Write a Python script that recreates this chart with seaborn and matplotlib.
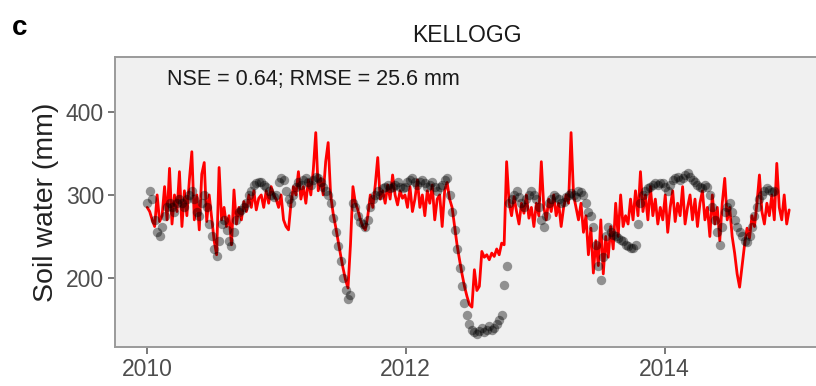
import numpy as np
import pandas as pd
import matplotlib
matplotlib.use("Agg")
import matplotlib.pyplot as plt
import matplotlib.dates as mdates
import seaborn as sns

# ---------------- data (weekly) ----------------
start_date = "2010-01-01"

sim_2010 = [285, 280, 270, 262, 300, 268, 275, 310, 270, 332, 265, 300, 280, 328, 262, 305,
            275, 318, 352, 270, 300, 258, 325, 339, 268, 300, 272, 245, 228, 333, 270, 285,
            262, 275, 240, 306, 265, 285, 270, 292, 280, 300, 285, 305, 282, 296, 300, 285,
            305, 290, 310, 300]
sim_2011 = [295, 285, 300, 270, 262, 258, 290, 310, 300, 328, 295, 310, 290, 318, 300, 330,
            375, 305, 320, 300, 340, 363, 300, 278, 262, 245, 228, 212, 198, 188, 240, 310,
            290, 282, 270, 262, 258, 275, 300, 285, 312, 345, 295, 305, 290, 312, 295, 324,
            300, 288, 305, 296]
sim_2012 = [300, 285, 310, 280, 295, 318, 285, 300, 275, 305, 290, 312, 270, 295, 300, 262,
            305, 315, 295, 285, 262, 240, 222, 205, 190, 178, 168, 165, 210, 185, 190, 232,
            225, 228, 222, 230, 226, 235, 228, 242, 240, 340, 290, 275, 298, 280, 265, 290,
            278, 300, 272, 285]
sim_2013 = [262, 290, 275, 340, 285, 270, 295, 280, 300, 275, 290, 262, 285, 300, 290, 375,
            300, 285, 270, 290, 255, 275, 228, 260, 206, 245, 215, 270, 205, 250, 225, 262,
            235, 290, 250, 300, 262, 275, 265, 295, 270, 305, 275, 328, 280, 300, 270, 310,
            275, 295, 265, 285]
sim_2014 = [270, 300, 255, 285, 305, 268, 290, 275, 310, 265, 285, 300, 270, 295, 262, 290,
            305, 270, 285, 250, 300, 265, 285, 245, 290, 320, 270, 285, 250, 230, 205, 189,
            215, 240, 260, 248, 275, 262, 290, 324, 280, 265, 290, 275, 300, 270, 338, 285,
            270, 300, 265, 282]

obs_2010 = [290, 305, 295, 270, 255, 250, 262, 275, 285, 290, 285, 280, 290, 295, 290, 285,
            295, 300, 305, 295, 280, 275, 290, 300, 285, 265, 250, 235, 226, 245, 265, 270,
            258, 245, 238, 255, 270, 280, 282, 285, 290, 300, 305, 312, 314, 316, 315, 312,
            310, 305, 300, 298]
obs_2011 = [300, 315, 320, 318, 305, 295, 290, 300, 310, 315, 312, 318, 320, 315, 312, 318,
            322, 320, 315, 310, 305, 300, 290, 272, 255, 238, 220, 200, 185, 175, 180, 290,
            285, 275, 268, 265, 262, 270, 285, 295, 300, 305, 300, 308, 310, 312, 308, 310,
            312, 315, 310, 308]
obs_2012 = [310, 315, 318, 320, 315, 312, 316, 318, 314, 310, 312, 315, 310, 305, 310, 312,
            318, 320, 300, 280, 258, 235, 212, 190, 170, 155, 145, 138, 135, 133, 136, 140,
            135, 138, 142, 137, 140, 145, 150, 155, 192, 214, 290, 295, 300, 305, 298, 290,
            285, 295, 300, 305]
obs_2013 = [300, 295, 285, 270, 262, 275, 290, 295, 300, 298, 295, 290, 292, 298, 300, 302,
            300, 298, 305, 303, 300, 290, 280, 275, 262, 240, 215, 198, 225, 250, 262, 255,
            252, 250, 248, 246, 244, 240, 238, 236, 236, 240, 265, 290, 300, 305, 308, 310,
            312, 314, 312, 314]
obs_2014 = [314, 310, 305, 312, 318, 320, 322, 318, 320, 324, 326, 322, 318, 315, 312, 310,
            308, 312, 310, 300, 285, 270, 255, 240, 262, 280, 285, 290, 280, 270, 262, 255,
            250, 245, 243, 250, 262, 275, 285, 295, 300, 305, 308, 306, 304, 305]

sim_values = sim_2010 + sim_2011 + sim_2012 + sim_2013 + sim_2014
obs_values = obs_2010 + obs_2011 + obs_2012 + obs_2013 + obs_2014

x_tick_years = [2010, 2012, 2014]
y_ticks = [200, 300, 400]

site_title = "KELLOGG"
panel_letter = "c"
stats_text = "NSE = 0.64; RMSE = 25.6 mm"
y_label = "Soil water (mm)"

sim_df = pd.DataFrame({
    "date": pd.date_range(start_date, periods=len(sim_values), freq="7D"),
    "sw": sim_values,
})
obs_df = pd.DataFrame({
    "date": pd.date_range(start_date, periods=len(obs_values), freq="7D"),
    "sw": obs_values,
})

# ---------------- style ----------------
sns.set_theme(style="white", rc={
    "axes.facecolor": "#F0F0F0",
    "axes.edgecolor": "#9A9A9A",
    "axes.grid": False,
})
plt.rcParams["font.family"] = ["Liberation Sans", "DejaVu Sans"]

W, H = 816, 386
fig = plt.figure(figsize=(W / 100, H / 100), dpi=100)
fig.patch.set_facecolor("white")

left, right, top, bottom = 115, 826, 57, 347
ax = fig.add_axes([left / W, 1 - bottom / H, (right - left) / W, (bottom - top) / H])

sns.lineplot(data=sim_df, x="date", y="sw", ax=ax, color="#FF0000", linewidth=2.0,
             zorder=2, legend=False)
sns.scatterplot(data=obs_df, x="date", y="sw", ax=ax, color="black", alpha=0.4,
                s=46, linewidth=0, zorder=3, legend=False)

ax.set_xlim(pd.Timestamp("2009-10-02"), pd.Timestamp("2015-04-02"))
ax.set_ylim(117, 466)
ax.set_xticks([pd.Timestamp(f"{y}-01-01") for y in x_tick_years])
ax.xaxis.set_major_formatter(mdates.DateFormatter("%Y"))
ax.set_yticks(y_ticks)

ax.tick_params(axis="both", which="major", length=5, width=1.1, color="#555555",
               labelsize=16.5, labelcolor="#4D4D4D", pad=3, bottom=True, left=True)
ax.set_xlabel("")
ax.set_ylabel(y_label, fontsize=20.5, color="#222222", labelpad=5)

for sp in ax.spines.values():
    sp.set_linewidth(1.4)
    sp.set_color("#9A9A9A")

fig.text(467 / W, 1 - 36 / H, site_title, ha="center", va="center", fontsize=16.5,
         color="#1A1A1A")
fig.text(12 / W, 1 - 28 / H, panel_letter, ha="left", va="center", fontsize=20,
         fontweight="bold", color="black")
ax.text(167 / W, 1 - 80 / H, stats_text, transform=fig.transFigure, ha="left",
        va="center", fontsize=15.5, color="#1A1A1A")

fig.savefig("out.png", dpi=100)
